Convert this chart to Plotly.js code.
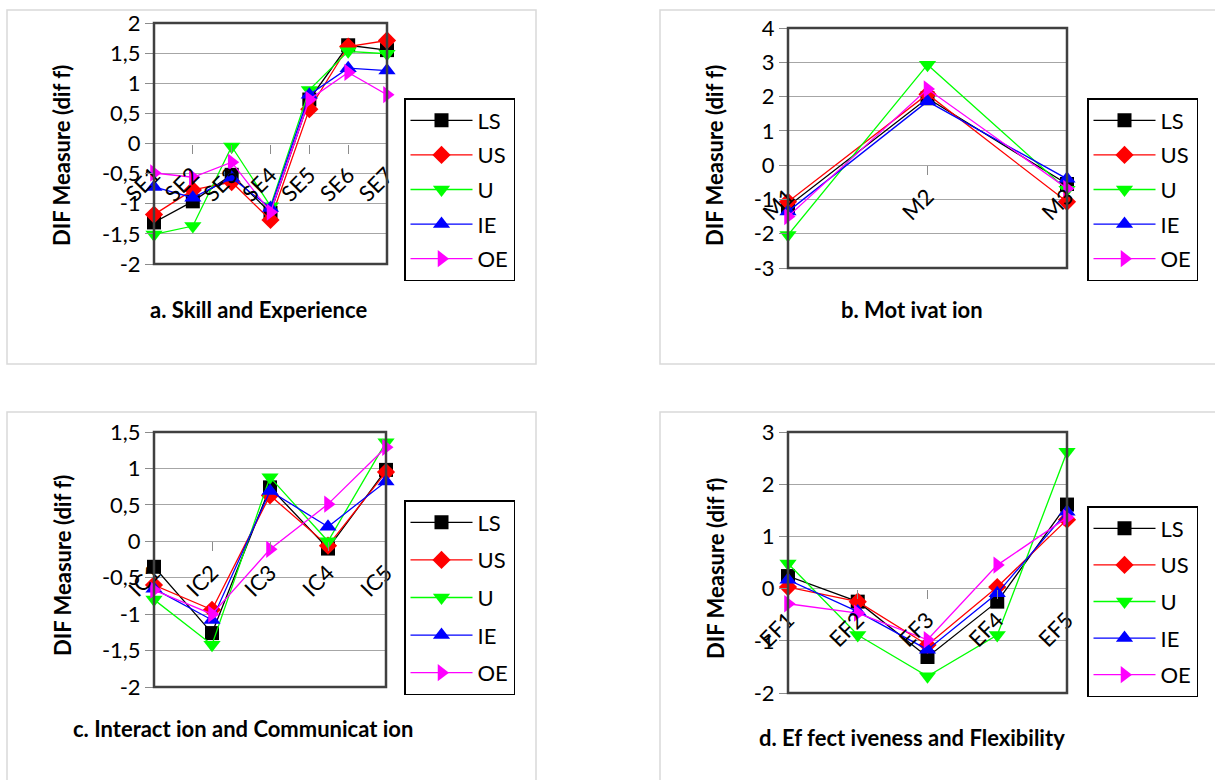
<!DOCTYPE html>
<html>
<head>
<meta charset="utf-8">
<script src="https://cdn.plot.ly/plotly-3.0.1.min.js"></script>
<style>html,body{margin:0;padding:0;background:#fff;}#chart{width:1215px;height:780px;}</style>
</head>
<body>
<div id="chart"></div>
<script>
// ---------- DATA ----------
const seriesNames = ['LS', 'US', 'U', 'IE', 'OE'];

const catsA = ['SE1', 'SE2', 'SE3', 'SE4', 'SE5', 'SE6', 'SE7'];
const lsA = [-1.31, -0.96, -0.52, -1.15, 0.73, 1.63, 1.55];
const usA = [-1.18, -0.77, -0.64, -1.27, 0.57, 1.61, 1.71];
const uA  = [-1.51, -1.37, -0.05, -1.04, 0.89, 1.53, 1.49];
const ieA = [-0.72, -0.90, -0.57, -1.07, 0.81, 1.25, 1.21];
const oeA = [-0.49, -0.56, -0.31, -1.14, 0.73, 1.18, 0.81];

const catsB = ['M1', 'M2', 'M3'];
const lsB = [-1.20, 1.95, -0.55];
const usB = [-1.07, 2.07, -1.07];
const uB  = [-2.04, 2.93, -0.72];
const ieB = [-1.35, 1.86, -0.40];
const oeB = [-1.50, 2.22, -0.68];

const catsC = ['IC1', 'IC2', 'IC3', 'IC4', 'IC5'];
const lsC = [-0.35, -1.26, 0.74, -0.10, 0.98];
const usC = [-0.60, -0.94, 0.63, -0.06, 0.95];
const uC  = [-0.80, -1.42, 0.88, 0.00, 1.36];
const ieC = [-0.65, -1.08, 0.69, 0.20, 0.82];
const oeC = [-0.67, -1.00, -0.11, 0.51, 1.29];

const catsD = ['EF1', 'EF2', 'EF3', 'EF4', 'EF5'];
const lsD = [0.24, -0.25, -1.31, -0.25, 1.61];
const usD = [0.03, -0.25, -1.08, 0.03, 1.32];
const uD  = [0.48, -0.89, -1.68, -0.89, 2.62];
const ieD = [0.17, -0.44, -1.17, -0.09, 1.47];
const oeD = [-0.29, -0.47, -0.98, 0.45, 1.36];

const yTicksA = [-2, -1.5, -1, -0.5, 0, 0.5, 1, 1.5, 2];
const yTextA  = ['-2', '-1,5', '-1', '-0,5', '0', '0,5', '1', '1,5', '2'];
const yTicksB = [-3, -2, -1, 0, 1, 2, 3, 4];
const yTextB  = ['-3', '-2', '-1', '0', '1', '2', '3', '4'];
const yTicksC = [-2, -1.5, -1, -0.5, 0, 0.5, 1, 1.5];
const yTextC  = ['-2', '-1,5', '-1', '-0,5', '0', '0,5', '1', '1,5'];
const yTicksD = [-2, -1, 0, 1, 2, 3];
const yTextD  = ['-2', '-1', '0', '1', '2', '3'];

const axisTitle = 'DIF Measure (dif f)';
const panelTitles = ['a. Skill and Experience', 'b. Mot ivat ion',
  'c. Interact ion and Communicat ion', 'd. Ef fect iveness and Flexibility'];

// ---------- STYLE ----------
const W = 1215, H = 780;
const FONT = 'Lato, "Open Sans", sans-serif';
const colors = ['#000000', '#ff0000', '#00ff00', '#0000ff', '#ff00ff'];
const symbols = ['square', 'diamond', 'triangle-down', 'triangle-up', 'triangle-right'];
const msizes = [14, 14, 15, 15, 15];
const fx = v => v / W;
const fy = v => 1 - v / H;

const panels = [
  {cats: catsA, vals: [lsA, usA, uA, ieA, oeA], yr: [-2, 2], tv: yTicksA, tt: yTextA,
   plot: [154, 23, 387, 264], frame: [7, 10, 536, 364], legend: [404, 98], gap: 3,
   ytitle: [62, 156], title: [258, 310]},
  {cats: catsB, vals: [lsB, usB, uB, ieB, oeB], yr: [-3, 4], tv: yTicksB, tt: yTextB,
   plot: [788, 28, 1067, 268], frame: [660, 10, 1230, 364], legend: [1087, 98], gap: 3,
   ytitle: [715, 156], title: [912, 310]},
  {cats: catsC, vals: [lsC, usC, uC, ieC, oeC], yr: [-2, 1.5], tv: yTicksC, tt: yTextC,
   plot: [154, 432, 386, 687], frame: [7, 412, 536, 800], legend: [404, 500], gap: 6,
   ytitle: [62, 566], title: [243, 728]},
  {cats: catsD, vals: [lsD, usD, uD, ieD, oeD], yr: [-2, 3], tv: yTicksD, tt: yTextD,
   plot: [788, 432, 1067, 693], frame: [660, 412, 1230, 800], legend: [1087, 506], gap: 5,
   ytitle: [715, 569], title: [912, 737]}
];

const traces = [];
const layout = {
  width: W, height: H,
  margin: {l: 0, r: 0, t: 0, b: 0},
  paper_bgcolor: '#ffffff', plot_bgcolor: '#ffffff',
  font: {family: FONT, size: 22, color: '#000'},
  showlegend: true,
  shapes: [], annotations: []
};

panels.forEach((p, i) => {
  const n = i === 0 ? '' : String(i + 1);
  const xa = 'x' + n, ya = 'y' + n;
  const legName = 'legend' + n;
  const xd = [fx(p.plot[0]), fx(p.plot[2])];
  const yd = [fy(p.plot[3]), fy(p.plot[1])];
  const zeroPos = yd[0] + (0 - p.yr[0]) / (p.yr[1] - p.yr[0]) * (yd[1] - yd[0]);

  p.vals.forEach((v, k) => {
    traces.push({
      type: 'scatter', mode: 'lines+markers',
      x: p.cats, y: v, name: seriesNames[k],
      xaxis: xa, yaxis: ya, legend: legName,
      legendgroup: 'g' + i + '_' + k,
      cliponaxis: false,
      line: {color: colors[k], width: 1.3},
      marker: {symbol: symbols[k], size: msizes[k], color: colors[k], line: {width: 0}}
    });
  });

  layout['xaxis' + n] = {
    domain: xd, type: 'category', range: [0, p.cats.length - 1],
    anchor: 'free', position: zeroPos,
    showgrid: false, zeroline: false, showline: false,
    ticks: 'outside', ticklen: 9, tickcolor: '#8c8c8c', tickwidth: 1,
    tickangle: -45, tickfont: {family: FONT, size: 22, color: '#000'},
    fixedrange: true
  };
  layout['yaxis' + n] = {
    domain: yd, range: p.yr, anchor: 'free', position: xd[0],
    tickmode: 'array', tickvals: p.tv, ticktext: p.tt,
    showgrid: true, gridcolor: '#a6a6a6', gridwidth: 1,
    zeroline: false, showline: false,
    ticks: 'outside', ticklen: 9, tickcolor: '#8c8c8c',
    tickfont: {family: FONT, size: 22, color: '#000'},
    fixedrange: true
  };
  layout[legName] = {
    x: fx(p.legend[0]), y: fy(p.legend[1]), xanchor: 'left', yanchor: 'top',
    bordercolor: '#000', borderwidth: 1.5, bgcolor: '#fff',
    font: {family: FONT, size: 22, color: '#000'},
    tracegroupgap: p.gap, itemwidth: 62,
    itemclick: false, itemdoubleclick: false
  };

  // outer chart frame
  layout.shapes.push({type: 'rect', xref: 'paper', yref: 'paper', layer: 'below',
    x0: fx(p.frame[0]), x1: fx(p.frame[2]), y0: fy(p.frame[3]), y1: fy(p.frame[1]),
    line: {color: '#d9d9d9', width: 1.5}, fillcolor: 'rgba(0,0,0,0)'});
  // plot area border
  layout.shapes.push({type: 'rect', xref: xa + ' domain', yref: ya + ' domain', layer: 'above',
    x0: 0, x1: 1, y0: 0, y1: 1,
    line: {color: '#404040', width: 2.5}, fillcolor: 'rgba(0,0,0,0)'});

  layout.annotations.push({xref: 'paper', yref: 'paper', x: fx(p.ytitle[0]), y: fy(p.ytitle[1]),
    text: '<b>' + axisTitle + '</b>', textangle: -90, showarrow: false,
    xanchor: 'center', yanchor: 'middle', font: {family: FONT, size: 22, color: '#000'}});
  layout.annotations.push({xref: 'paper', yref: 'paper', x: fx(p.title[0]), y: fy(p.title[1]),
    text: '<b>' + panelTitles[i] + '</b>', showarrow: false,
    xanchor: 'center', yanchor: 'middle', font: {family: FONT, size: 22, color: '#000'}});
});

Plotly.newPlot('chart', traces, layout, {displayModeBar: false, staticPlot: true});
</script>
</body>
</html>
